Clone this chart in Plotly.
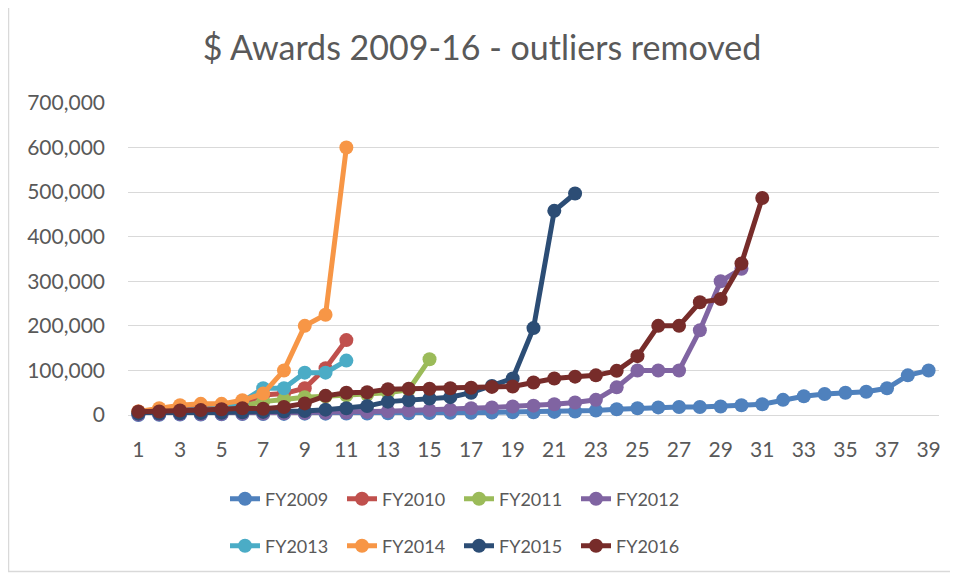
import plotly.graph_objects as go

categories = list(range(1, 40))
x_tick_labels = [str(i) for i in range(1, 40, 2)]
y_tick_values = [0, 100000, 200000, 300000, 400000, 500000, 600000, 700000]

fy2009 = [0, 500, 1000, 1000, 1500, 2000, 2000, 2500, 3000, 3000, 3500, 3500, 4000, 4000,
          4500, 5000, 5000, 5500, 6000, 6000, 7000, 8000, 10000, 13000, 15000, 17000, 18000,
          18000, 19000, 22000, 24000, 34000, 42000, 47000, 50000, 52000, 60000, 89000, 100000]
fy2010 = [8000, 12000, 14000, 16000, 18000, 25000, 45000, 48000, 60000, 105000, 168000]
fy2011 = [4000, 6000, 8000, 10000, 12000, 20000, 30000, 35000, 40000, 42000, 44000, 46000,
          50000, 57000, 125000]
fy2012 = [1000, 1500, 2000, 2000, 2500, 3000, 3500, 4000, 4500, 5000, 5500, 7000, 8500, 10000,
          11000, 12000, 15000, 17000, 19000, 21000, 24000, 28000, 34000, 62000, 100000, 100000,
          100000, 190000, 300000, 328000]
fy2013 = [5000, 8000, 10000, 12000, 15000, 30000, 60000, 60000, 95000, 95000, 122000]
fy2014 = [8000, 15000, 22000, 25000, 25000, 33000, 48000, 100000, 200000, 225000, 600000]
fy2015 = [3000, 3500, 4000, 4500, 5000, 6000, 7000, 8000, 9000, 12000, 15000, 20000, 30000,
          33000, 37000, 40000, 50000, 65000, 82000, 195000, 458000, 497000]
fy2016 = [7500, 8000, 10000, 11000, 13000, 15000, 14000, 18000, 26000, 43000, 50000, 51000,
          58000, 59000, 59000, 60000, 61000, 63000, 64000, 73000, 82000, 86000, 89000, 99000,
          132000, 200000, 200000, 253000, 260000, 340000, 487000]

series_names = ["FY2009", "FY2010", "FY2011", "FY2012", "FY2013", "FY2014", "FY2015", "FY2016"]
series_values = [fy2009, fy2010, fy2011, fy2012, fy2013, fy2014, fy2015, fy2016]
colors = ["#4F81BD", "#C0504D", "#9BBB59", "#8064A2", "#4BACC6", "#F79646", "#2C4D75", "#772C2A"]

FONT = "Lato"
TXT = "#595959"

fig = go.Figure()
for i, (name, vals, col) in enumerate(zip(series_names, series_values, colors)):
    fig.add_trace(go.Scatter(
        x=categories[:len(vals)], y=vals, name=name, mode="lines+markers",
        line=dict(color=col, width=5), marker=dict(color=col, size=14),
        cliponaxis=False,
        legend="legend" if i < 4 else "legend2",
    ))

# the page body adds an 8px offset; work in reference pixel coordinates
OFF = 8
W, H = 958 - OFF, 575 - OFF
L, R, T, B = 128 - OFF, 958 - 939, 103 - OFF, 575 - 416
pw, ph = W - L - R, H - T - B

def px_x(px):
    return (px - OFF - L) / pw

def px_y(py):
    return (H - B - (py - OFF)) / ph

legend_common = dict(
    orientation="h", xanchor="left", yanchor="middle",
    font=dict(family=FONT, size=18, color=TXT),
    bgcolor="rgba(0,0,0,0)", entrywidth=72, itemwidth=30,
    tracegroupgap=0,
)

fig.update_layout(
    width=W, height=H,
    margin=dict(l=L, r=R, t=T, b=B),
    paper_bgcolor="white", plot_bgcolor="white",
    title=dict(text="$ Awards 2009-16 - outliers removed", x=(482 - OFF) / W,
               xref="container", xanchor="center", y=1 - (48 - OFF) / H, yref="container",
               yanchor="middle",
               font=dict(family=FONT, size=34, color=TXT)),
    xaxis=dict(range=[0.5, 39.5], tickmode="array", tickvals=list(range(1, 40, 2)),
               ticktext=x_tick_labels, showgrid=False, zeroline=False, showline=False,
               ticks="", ticklabelstandoff=20,
               tickfont=dict(family=FONT, size=21, color=TXT)),
    yaxis=dict(range=[0, 700000], tickmode="array", tickvals=y_tick_values,
               tickformat=",d", showgrid=True, gridcolor="#D9D9D9", gridwidth=1,
               zeroline=True, zerolinecolor="#D9D9D9", zerolinewidth=1,
               showline=False, ticks="", ticklabelstandoff=22,
               tickfont=dict(family=FONT, size=21, color=TXT)),
    legend=dict(x=px_x(225), y=px_y(499), **legend_common),
    legend2=dict(x=px_x(225), y=px_y(546), **legend_common),
    shapes=[dict(type="rect", xref="paper", yref="paper",
                 x0=px_x(8.5), x1=px_x(955), y0=px_y(573), y1=px_y(-2),
                 line=dict(color="#D9D9D9", width=1.5), fillcolor="rgba(0,0,0,0)", layer="below")],
    showlegend=True,
)

fig.write_html("out.html")
